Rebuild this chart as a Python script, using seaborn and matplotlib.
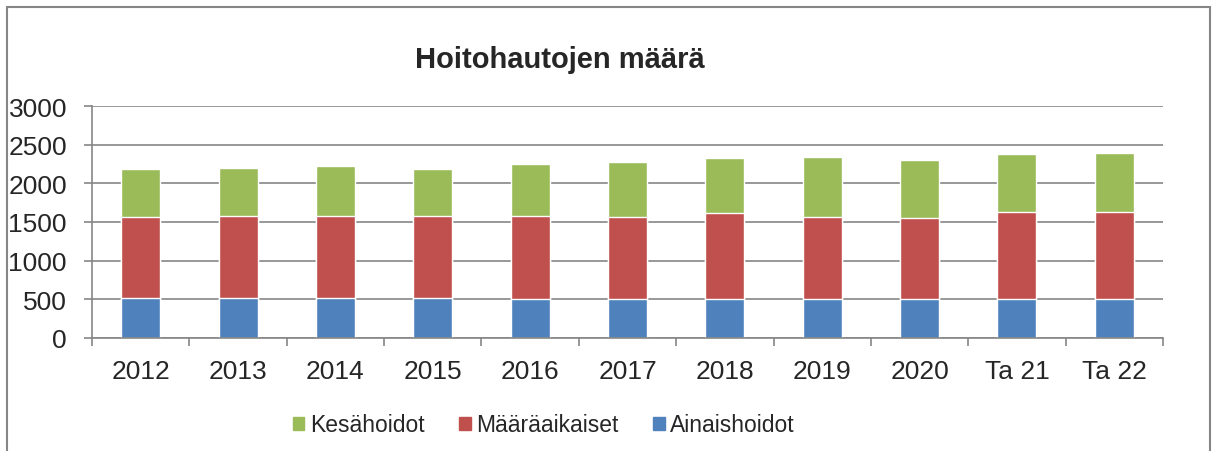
import numpy as np
import pandas as pd
import seaborn as sns
import matplotlib.pyplot as plt
from matplotlib.patches import Patch, Rectangle

years = ['2012', '2013', '2014', '2015', '2016', '2017', '2018', '2019', '2020', 'Ta 21', 'Ta 22']
ainaishoidot = [512, 512, 512, 512, 503, 503, 503, 503, 503, 499, 499]
maaraaikaiset = [1053, 1066, 1066, 1062, 1071, 1062, 1114, 1062, 1054, 1135, 1135]
kesahoidot = [615, 619, 645, 615, 671, 710, 709, 770, 739, 740, 761]

cGreen = '#9BBB59'
cRed = '#C0504D'
cBlue = '#4F81BD'
gridCol = '#868686'

df = pd.DataFrame({'Vuosi': years, 'Ainaishoidot': ainaishoidot,
                   'Määräaikaiset': maaraaikaiset, 'Kesähoidot': kesahoidot})
# kumulatiiviset summat pinottuja pylväitä varten
df['redTop'] = df['Ainaishoidot'] + df['Määräaikaiset']
df['total'] = df['redTop'] + df['Kesähoidot']

sns.set_style('white')
plt.rcParams['font.family'] = ['Liberation Sans', 'DejaVu Sans']

fig = plt.figure(figsize=(12.18, 4.52), dpi=100)
ax = fig.add_axes([92 / 1218, 1 - 339 / 452, (1163 - 92) / 1218, (339 - 107) / 452])

sns.barplot(data=df, x='Vuosi', y='total', color=cGreen, width=0.4, saturation=1, ax=ax)
sns.barplot(data=df, x='Vuosi', y='redTop', color=cRed, width=0.4, saturation=1, ax=ax)
sns.barplot(data=df, x='Vuosi', y='Ainaishoidot', color=cBlue, width=0.4, saturation=1, ax=ax)

ax.set_ylim(0, 3000)
ax.set_xlim(-0.5, len(years) - 0.5)
ax.set_yticks(np.arange(0, 3001, 500))
ax.set_xlabel('')
ax.set_ylabel('')
ax.set_axisbelow(True)
ax.yaxis.grid(True, color=gridCol, linewidth=1.2)
ax.xaxis.grid(False)

for s in ['top', 'right']:
    ax.spines[s].set_visible(False)
for s in ['left', 'bottom']:
    ax.spines[s].set_color(gridCol)
    ax.spines[s].set_linewidth(1.2)

ax.set_xticks(np.arange(-0.5, len(years), 1), minor=True)
ax.tick_params(axis='x', which='major', bottom=True, length=0, pad=15, labelsize=19)
ax.tick_params(axis='x', which='minor', bottom=True, length=6, width=1.2, color=gridCol, direction='out')
ax.tick_params(axis='y', left=True, length=6, width=1.2, color=gridCol, direction='out', pad=12, labelsize=19)

fig.text(559.5 / 1218, 1 - 60 / 452, 'Hoitohautojen määrä', ha='center', va='center',
         fontsize=21, fontweight='bold')

handles = [Patch(color=cGreen, label='Kesähoidot'),
           Patch(color=cRed, label='Määräaikaiset'),
           Patch(color=cBlue, label='Ainaishoidot')]
fig.legend(handles=handles, loc='center', bbox_to_anchor=(544 / 1218, 1 - 426 / 452), ncol=3,
           frameon=False, handlelength=0.5, handleheight=0.5, handletextpad=0.25,
           columnspacing=1.5, prop={'size': 16.5})

# kaavion ulkokehys
fig.patches.append(Rectangle((7 / 1218, -0.1), 1203 / 1218, 1.1 - 8 / 452, transform=fig.transFigure,
                             fill=False, edgecolor=gridCol, linewidth=1.5))

plt.savefig('out.png', dpi=100)
